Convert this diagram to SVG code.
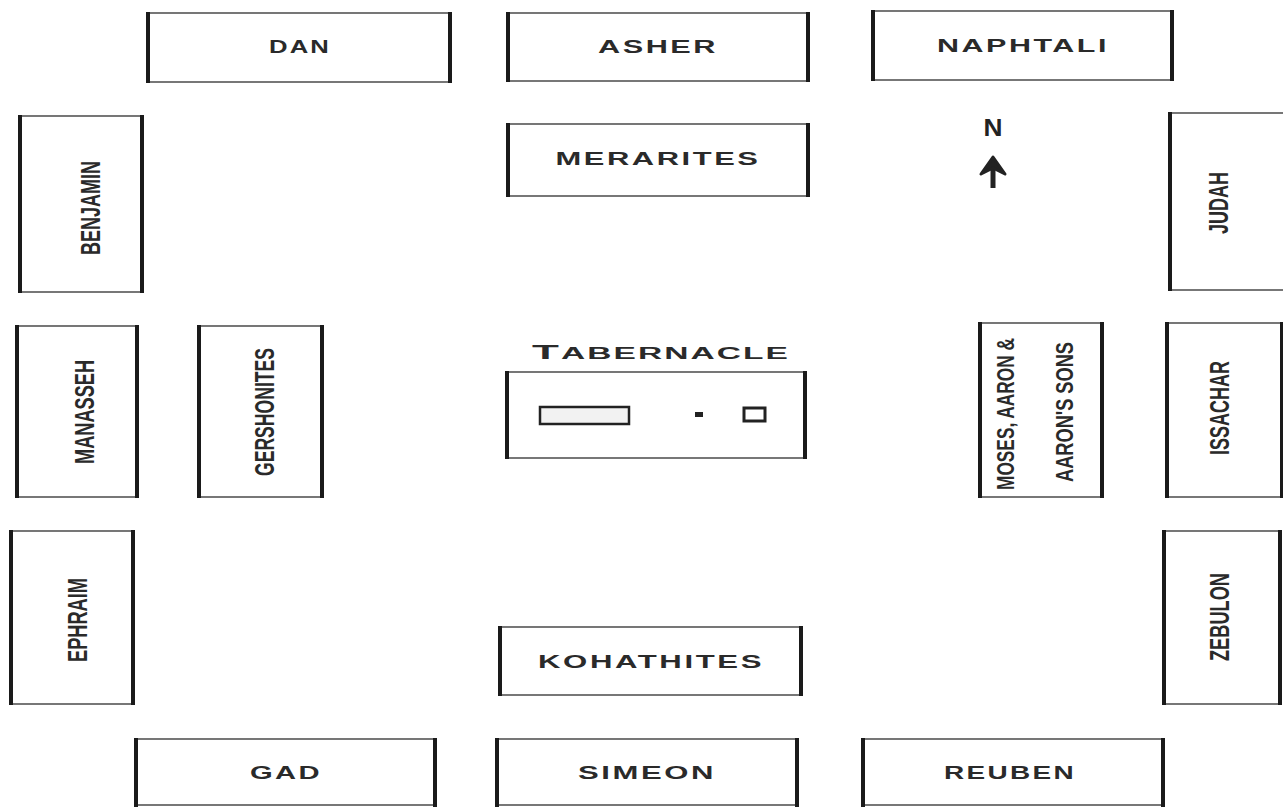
<svg xmlns="http://www.w3.org/2000/svg" width="1283" height="807" viewBox="0 0 1283 807">
<style>
.bx{fill:#fff;stroke:#555;stroke-width:1.6}
.sd{stroke:#1a1a1a;stroke-width:4;fill:none}
.h{font-family:"Liberation Sans",Arial,sans-serif;font-weight:bold;font-size:18px;fill:#2a2a2a;text-anchor:middle;letter-spacing:1.5px}
.v{font-family:"Liberation Sans",Arial,sans-serif;font-weight:bold;font-size:28px;fill:#2a2a2a;text-anchor:middle}
.vs{font-family:"Liberation Sans",Arial,sans-serif;font-weight:bold;font-size:24px;fill:#2a2a2a;text-anchor:middle}
</style>
<rect width="1283" height="807" fill="#fff"/>

<g id="dan"><rect class="bx" x="148" y="13" width="302" height="69"/><path class="sd" d="M148 12V83M450 12V83"/>
<text class="h" x="300" y="53" textLength="62" lengthAdjust="spacingAndGlyphs">DAN</text></g>
<g id="asher"><rect class="bx" x="508" y="13" width="300" height="68"/><path class="sd" d="M508 12V82M808 12V82"/>
<text class="h" x="658" y="53" textLength="120" lengthAdjust="spacingAndGlyphs">ASHER</text></g>
<g id="naphtali"><rect class="bx" x="873" y="11" width="299" height="69"/><path class="sd" d="M873 10V81M1172 10V81"/>
<text class="h" x="1023" y="52" textLength="172" lengthAdjust="spacingAndGlyphs">NAPHTALI</text></g>
<g id="merarites"><rect class="bx" x="508" y="124" width="300" height="72"/><path class="sd" d="M508 123V197M808 123V197"/>
<text class="h" x="658" y="165" textLength="205" lengthAdjust="spacingAndGlyphs">MERARITES</text></g>

<g id="north"><text x="993" y="136" font-family="Liberation Sans,Arial,sans-serif" font-weight="bold" font-size="23" fill="#222" text-anchor="middle" textLength="19" lengthAdjust="spacingAndGlyphs">N</text>
<path d="M993 188V168" stroke="#222" stroke-width="5" fill="none"/><path d="M993 157L981 174L993 168L1005 174Z" fill="#222" stroke="#222" stroke-width="3" stroke-linejoin="round"/></g>

<g id="benjamin"><rect class="bx" x="20" y="116" width="122" height="176"/><path class="sd" d="M20 115V293M142 115V293"/>
<text class="v" transform="translate(100 208) rotate(-90)" textLength="94" lengthAdjust="spacingAndGlyphs">BENJAMIN</text></g>
<g id="judah"><rect class="bx" x="1170" y="113" width="120" height="177"/><path class="sd" d="M1170 112V291"/>
<text class="v" transform="translate(1228 203) rotate(-90)" textLength="62" lengthAdjust="spacingAndGlyphs">JUDAH</text></g>

<g id="manasseh"><rect class="bx" x="17" y="326" width="120" height="171"/><path class="sd" d="M17 325V498M137 325V498"/>
<text class="v" transform="translate(94 412) rotate(-90)" textLength="104" lengthAdjust="spacingAndGlyphs">MANASSEH</text></g>
<g id="gershonites"><rect class="bx" x="199" y="326" width="123" height="171"/><path class="sd" d="M199 325V498M322 325V498"/>
<text class="v" transform="translate(274 412) rotate(-90)" textLength="128" lengthAdjust="spacingAndGlyphs">GERSHONITES</text></g>

<g id="tabernacle">
<text x="661" y="359" font-family="Liberation Sans,Arial,sans-serif" font-weight="bold" font-size="16" fill="#2a2a2a" text-anchor="middle" letter-spacing="1" textLength="258" lengthAdjust="spacingAndGlyphs"><tspan font-size="21">T</tspan>ABERNACLE</text>
<rect class="bx" x="507" y="372" width="298" height="86"/><path class="sd" d="M507 371V459M805 371V459"/>
<rect x="540" y="407" width="89" height="17" fill="#f2f2f2" stroke="#222" stroke-width="2.5"/>
<rect x="695" y="412" width="8" height="5" fill="#222"/>
<rect x="744" y="408" width="21" height="13" fill="#fff" stroke="#222" stroke-width="3"/>
</g>

<g id="moses"><rect class="bx" x="980" y="323" width="122" height="174"/><path class="sd" d="M980 322V498M1102 322V498"/>
<text class="vs" transform="translate(1014 414) rotate(-90)" textLength="152" lengthAdjust="spacingAndGlyphs">MOSES, AARON &amp;</text>
<text class="vs" transform="translate(1073 412) rotate(-90)" textLength="140" lengthAdjust="spacingAndGlyphs">AARON'S SONS</text></g>
<g id="issachar"><rect class="bx" x="1167" y="323" width="115" height="174"/><path class="sd" d="M1167 322V498M1282 322V498"/>
<text class="v" transform="translate(1229 408) rotate(-90)" textLength="94" lengthAdjust="spacingAndGlyphs">ISSACHAR</text></g>

<g id="ephraim"><rect class="bx" x="11" y="531" width="122" height="173"/><path class="sd" d="M11 530V705M133 530V705"/>
<text class="v" transform="translate(87 620) rotate(-90)" textLength="84" lengthAdjust="spacingAndGlyphs">EPHRAIM</text></g>
<g id="zebulon"><rect class="bx" x="1164" y="531" width="116" height="173"/><path class="sd" d="M1164 530V705M1280 530V705"/>
<text class="v" transform="translate(1229 617) rotate(-90)" textLength="88" lengthAdjust="spacingAndGlyphs">ZEBULON</text></g>

<g id="kohathites"><rect class="bx" x="500" y="627" width="301" height="68"/><path class="sd" d="M500 626V696M801 626V696"/>
<text class="h" x="651" y="668" textLength="226" lengthAdjust="spacingAndGlyphs">KOHATHITES</text></g>

<g id="gad"><rect class="bx" x="136" y="739" width="299" height="66"/><path class="sd" d="M136 738V807M435 738V807"/>
<text class="h" x="286" y="779" textLength="72" lengthAdjust="spacingAndGlyphs">GAD</text></g>
<g id="simeon"><rect class="bx" x="497" y="739" width="300" height="66"/><path class="sd" d="M497 738V807M797 738V807"/>
<text class="h" x="647" y="779" textLength="138" lengthAdjust="spacingAndGlyphs">SIMEON</text></g>
<g id="reuben"><rect class="bx" x="863" y="739" width="300" height="66"/><path class="sd" d="M863 738V807M1163 738V807"/>
<text class="h" x="1010" y="779" textLength="132" lengthAdjust="spacingAndGlyphs">REUBEN</text></g>

<g id="connectors"></g>
</svg>
